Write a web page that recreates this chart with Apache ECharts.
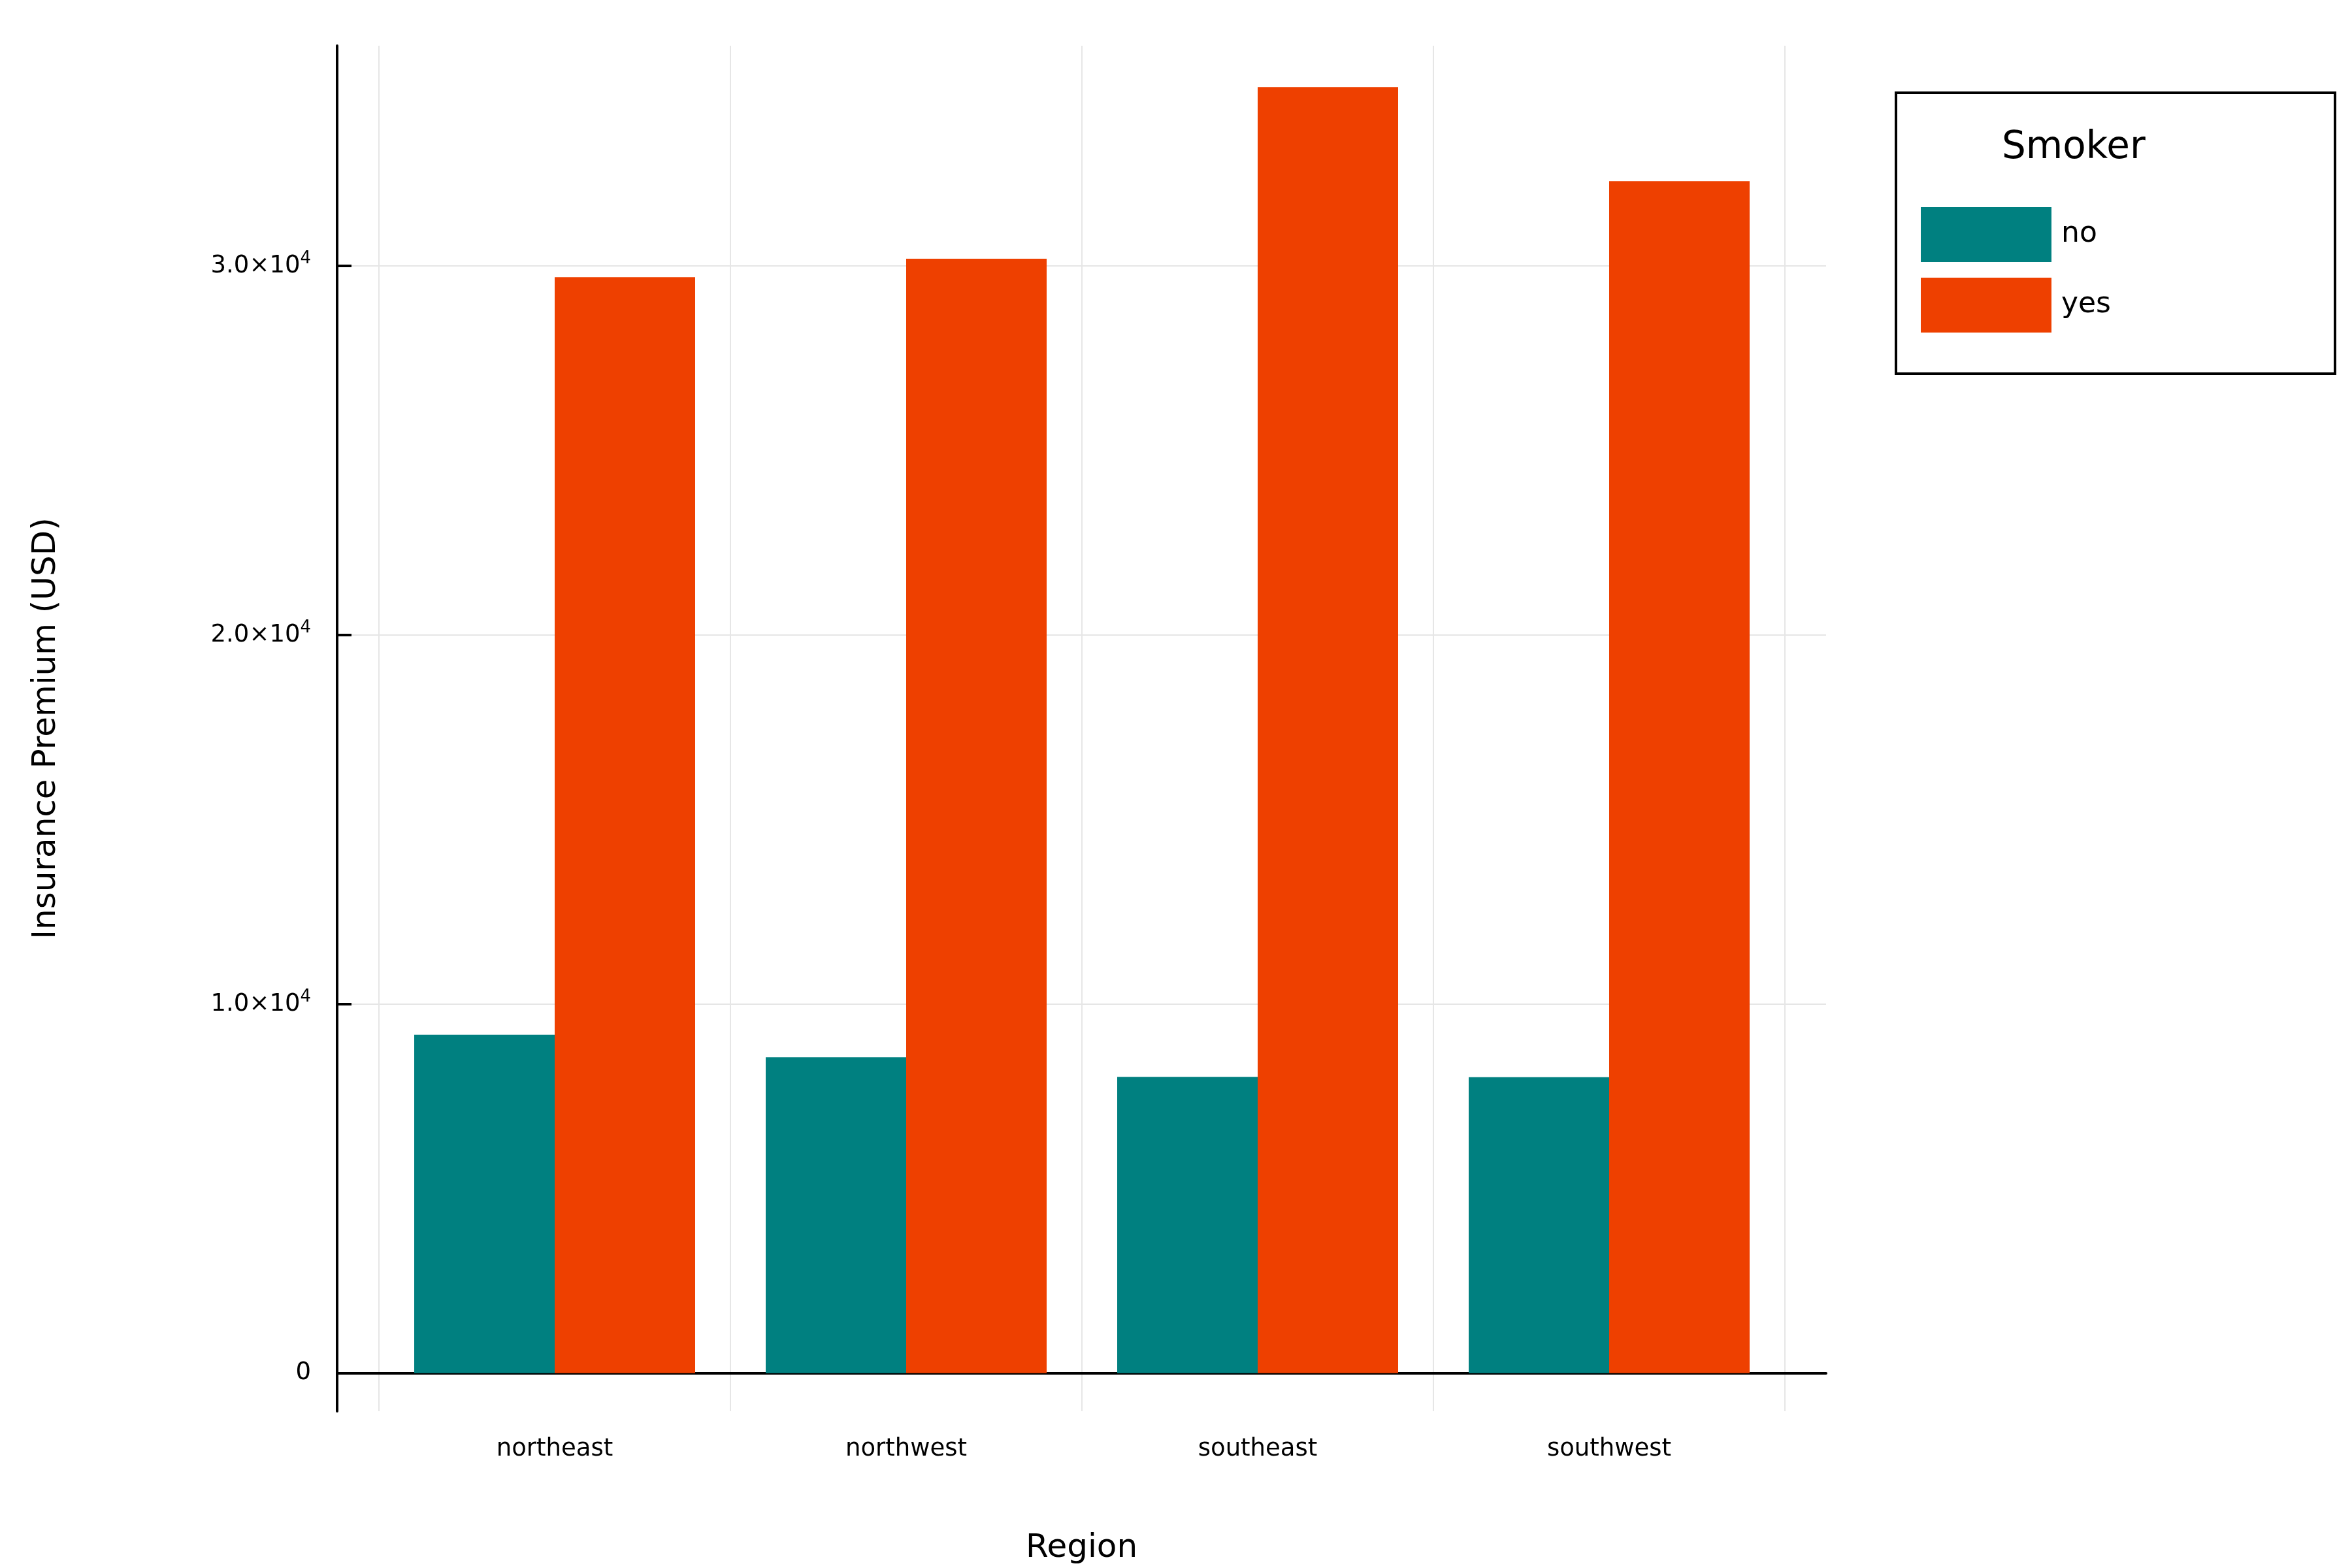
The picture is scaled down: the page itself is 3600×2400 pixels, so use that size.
<!DOCTYPE html>
<html>
<head>
<meta charset="utf-8">
<script src="https://cdn.jsdelivr.net/npm/echarts@6/dist/echarts.min.js"></script>
<style>html,body{margin:0;padding:0;background:#fff}#main{width:3600px;height:2400px}</style>
</head>
<body>
<div id="main"></div>
<script>
var regions = ['northeast', 'northwest', 'southeast', 'southwest']
var noSmoker = [9170, 8560, 8030, 8020]
var yesSmoker = [29700, 30200, 34850, 32300]
var yTicks = [0, 10000, 20000, 30000]

var yMin = -1030
var yMax = 35970
var font = 'DejaVu Sans'

var chart = echarts.init(document.getElementById('main'))
var option = {
  backgroundColor: '#fff',
  textStyle: { fontFamily: font },
  grid: [
    { left: 516, right: 805, top: 70, bottom: 240 },
    { left: 580, right: 868, top: 70, bottom: 240 }
  ],
  xAxis: [
    {
      gridIndex: 0, type: 'value', min: 0, max: 1,
      axisLine: { show: true, lineStyle: { color: '#000', width: 4 } },
      axisTick: { show: false }, axisLabel: { show: false }, splitLine: { show: false },
      name: 'Region', nameLocation: 'middle', nameGap: 185,
      nameTextStyle: { fontSize: 50, color: '#000', fontFamily: font }
    },
    {
      gridIndex: 1, type: 'category', data: regions, boundaryGap: true,
      axisLine: { show: false },
      axisTick: { show: true, alignWithLabel: true, inside: true, length: 30, lineStyle: { color: '#000', width: 4 } },
      axisLabel: { fontSize: 37, color: '#000', margin: 40, fontFamily: font },
      splitLine: { show: true, lineStyle: { color: '#e6e6e6', width: 2 } }
    }
  ],
  yAxis: [
    {
      gridIndex: 0, type: 'value', min: yMin, max: yMax,
      axisLine: { show: true, lineStyle: { color: '#000', width: 4 } },
      axisTick: { show: true, inside: true, length: 22, customValues: yTicks, lineStyle: { color: '#000', width: 4 } },
      axisLabel: {
        customValues: yTicks, fontSize: 37, color: '#000', margin: 40, fontFamily: font,
        formatter: function (v) {
          if (v === 0) return '0'
          return (v / 10000).toFixed(1) + '×10{s|4}'
        },
        rich: { s: { fontSize: 26, verticalAlign: 'top', padding: [0, 0, 22, 0], color: '#000', fontFamily: font } }
      },
      splitLine: { show: true, lineStyle: { color: '#e6e6e6', width: 2 } },
      name: 'Insurance Premium (USD)', nameLocation: 'middle', nameGap: 420,
      nameTextStyle: { fontSize: 50, color: '#000', fontFamily: font }
    },
    {
      gridIndex: 1, type: 'value', min: yMin, max: yMax, show: false
    }
  ],
  legend: {
    left: 2935, top: 312, orient: 'vertical', itemWidth: 200, itemHeight: 84, itemGap: 24,
    icon: 'rect', textStyle: { fontSize: 44, color: '#000', fontFamily: font, padding: [0, 0, 0, 10] },
    data: ['no', 'yes']
  },
  graphic: [
    { type: 'rect', left: 2900, top: 140, shape: { width: 672, height: 430 }, style: { fill: '#fff', stroke: '#000', lineWidth: 4 }, z: -1 },
    { type: 'text', left: 3064, top: 198, style: { text: 'Smoker', fontSize: 58, fill: '#000', fontFamily: font } }
  ],
  series: [
    { name: 'no', type: 'bar', xAxisIndex: 1, yAxisIndex: 1, data: noSmoker, barWidth: 215, barGap: '0%', itemStyle: { color: '#008080' } },
    { name: 'yes', type: 'bar', xAxisIndex: 1, yAxisIndex: 1, data: yesSmoker, barWidth: 215, barGap: '0%', itemStyle: { color: '#EE4000' } }
  ]
}
chart.setOption(option)
</script>
</body>
</html>
